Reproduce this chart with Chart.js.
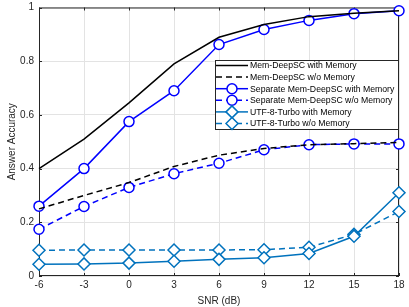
<!DOCTYPE html>
<html>
<head>
<meta charset="utf-8">
<script src="https://cdn.jsdelivr.net/npm/chart.js@4"></script>
<style>
  html, body { margin: 0; padding: 0; background: #fff; }
  #wrap { width: 409px; height: 307px; }
</style>
</head>
<body>
<div id="wrap"><canvas id="chart" width="409" height="307"></canvas></div>
<script>
// SNR points (dB)
const snr = [-6, -3, 0, 3, 6, 9, 12, 15, 18];
const yTicks = [0, 0.2, 0.4, 0.6, 0.8, 1];

// answer accuracy per method
const memWith = [0.40, 0.51, 0.645, 0.79, 0.889, 0.937, 0.966, 0.979, 0.988];
const memWithout = [0.25, 0.30, 0.348, 0.408, 0.45, 0.475, 0.489, 0.493, 0.497];
const sepWith = [0.26, 0.40, 0.575, 0.69, 0.862, 0.918, 0.952, 0.977, 0.988];
const sepWithout = [0.174, 0.259, 0.33, 0.381, 0.42, 0.47, 0.489, 0.492, 0.492];
const utfWith = [0.044, 0.045, 0.048, 0.055, 0.062, 0.068, 0.084, 0.148, 0.31];
const utfWithout = [0.096, 0.097, 0.097, 0.097, 0.097, 0.098, 0.107, 0.155, 0.24];

const labels = [
    'Mem-DeepSC with Memory',
    'Mem-DeepSC w/o Memory',
    'Separate Mem-DeepSC with Memory',
    'Separate Mem-DeepSC w/o Memory',
    'UTF-8-Turbo with Memory',
    'UTF-8-Turbo w/o Memory'
];

const FONT = 'Liberation Sans, Arial, Helvetica, sans-serif';
const BLUE = '#0000ff';
const MBLUE = '#0072bd';
const AXIS = '#262626';

const toPts = (ys) => snr.map((x, i) => ({ x: x, y: ys[i] }));

const mk = (label, ys, color, dash, marker) => ({
    label: label,
    data: toPts(ys),
    borderColor: color,
    backgroundColor: '#ffffff',
    borderWidth: 1.5,
    borderDash: dash,
    pointStyle: marker || 'circle',
    pointRadius: marker ? (marker === 'rectRot' ? 6 : 5) : 0,
    pointBorderWidth: 1.5,
    pointBackgroundColor: '#ffffff',
    pointBorderColor: color,
    tension: 0
});

// legend drawn inside the axes, MATLAB style
const boxLegend = {
    id: 'boxLegend',
    afterDraw(chart) {
        const ctx = chart.ctx;
        const area = chart.chartArea;
        const x0 = 215, y0 = 60, w = area.right - 216, h = 69;
        const rowH = 11.6;
        ctx.save();
        ctx.fillStyle = '#fff';
        ctx.fillRect(x0, y0, w, h);
        ctx.strokeStyle = AXIS;
        ctx.lineWidth = 1;
        ctx.strokeRect(x0 + 0.5, y0 + 0.5, w, h);
        ctx.font = '8.7px ' + FONT;
        ctx.textBaseline = 'middle';
        chart.data.datasets.forEach((ds, i) => {
            const cy = y0 + 5.5 + rowH * i;
            ctx.strokeStyle = ds.borderColor;
            ctx.lineWidth = 1.5;
            ctx.setLineDash(ds.borderDash || []);
            ctx.beginPath();
            ctx.moveTo(x0 + 1, cy);
            ctx.lineTo(x0 + 33, cy);
            ctx.stroke();
            ctx.setLineDash([]);
            if (ds.pointRadius > 0) {
                ctx.fillStyle = '#fff';
                ctx.strokeStyle = ds.borderColor;
                Chart.helpers.drawPoint(ctx, {
                    pointStyle: ds.pointStyle,
                    radius: ds.pointRadius,
                    borderWidth: 1.5
                }, x0 + 17, cy);
            }
            ctx.fillStyle = '#000';
            ctx.fillText(ds.label, x0 + 35, cy + 0.5);
        });
        ctx.restore();
    }
};

// full box around the axes plus small inward ticks
const axesBox = {
    id: 'axesBox',
    beforeDatasetsDraw(chart) {
        const { ctx, chartArea: a, scales } = chart;
        ctx.save();
        ctx.strokeStyle = AXIS;
        ctx.lineWidth = 1;
        ctx.strokeRect(a.left + 0.5, a.top + 0.5, a.right - a.left - 1, a.bottom - a.top - 1);
        ctx.beginPath();
        snr.forEach(v => {
            const px = Math.round(scales.x.getPixelForValue(v)) + 0.5;
            ctx.moveTo(px, a.bottom); ctx.lineTo(px, a.bottom - 3);
            ctx.moveTo(px, a.top); ctx.lineTo(px, a.top + 3);
        });
        yTicks.forEach(v => {
            const py = Math.round(scales.y.getPixelForValue(v)) + 0.5;
            ctx.moveTo(a.left, py); ctx.lineTo(a.left + 3, py);
            ctx.moveTo(a.right, py); ctx.lineTo(a.right - 3, py);
        });
        ctx.stroke();
        ctx.restore();
    }
};

new Chart(document.getElementById('chart'), {
    type: 'line',
    data: {
        datasets: [
            mk(labels[0], memWith, '#000000', [], null),
            mk(labels[1], memWithout, '#000000', [6, 4], null),
            mk(labels[2], sepWith, BLUE, [], 'circle'),
            mk(labels[3], sepWithout, BLUE, [6, 4], 'circle'),
            mk(labels[4], utfWith, MBLUE, [], 'rectRot'),
            mk(labels[5], utfWithout, MBLUE, [6, 4], 'rectRot')
        ]
    },
    options: {
        responsive: false,
        animation: false,
        clip: false,
        layout: { padding: { top: 6, right: 10, left: 6, bottom: 0 } },
        plugins: { legend: { display: false }, tooltip: { enabled: false } },
        scales: {
            x: {
                type: 'linear',
                min: -6, max: 18,
                afterFit: (s) => { s.height = 31; s.paddingLeft = 0; s.paddingRight = 0; },
                afterBuildTicks: (s) => { s.ticks = snr.map(v => ({ value: v })); },
                ticks: { color: AXIS, font: { family: FONT, size: 10 }, padding: 3, maxRotation: 0 },
                grid: { color: '#e3e3e3', drawTicks: false },
                border: { display: false },
                title: { display: true, text: 'SNR (dB)', color: AXIS, font: { family: FONT, size: 10 }, padding: { top: 1, bottom: 0 } }
            },
            y: {
                min: 0, max: 1,
                afterFit: (s) => { s.width = 33; s.paddingTop = 0; s.paddingBottom = 0; },
                afterBuildTicks: (s) => { s.ticks = yTicks.map(v => ({ value: v })); },
                ticks: { color: AXIS, font: { family: FONT, size: 10 }, padding: 5,
                    callback: (v) => String(v) },
                grid: { color: '#e3e3e3', drawTicks: false },
                border: { display: false },
                title: { display: true, text: 'Answer Accuracy', color: AXIS, font: { family: FONT, size: 10 }, padding: { top: 0, bottom: 2 } }
            }
        }
    },
    plugins: [axesBox, boxLegend]
});
</script>
</body>
</html>
